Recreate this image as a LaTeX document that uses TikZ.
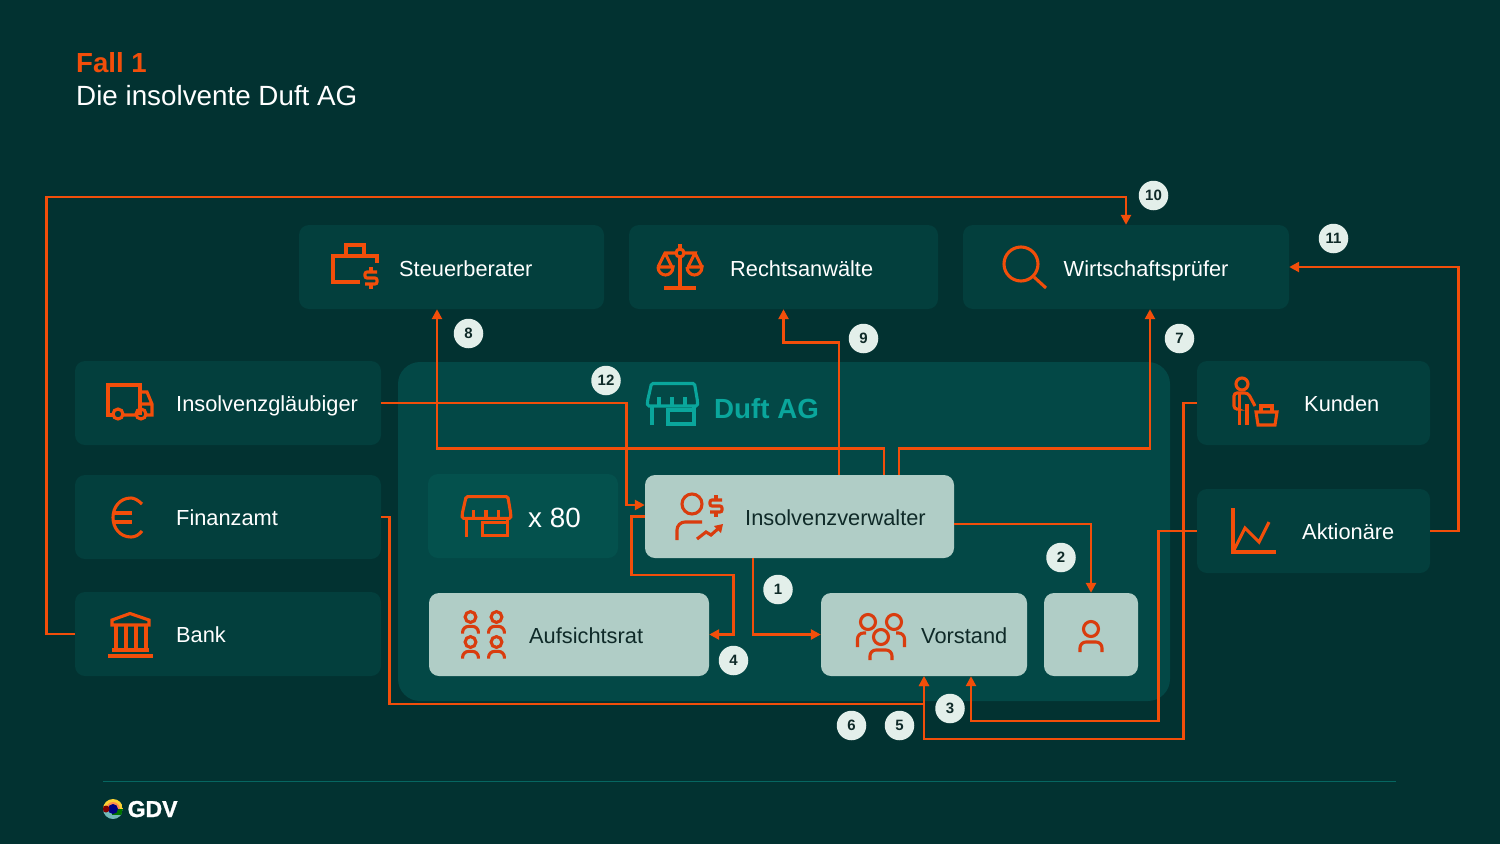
\documentclass[tikz,border=0pt]{standalone}
\usepackage{fontspec}
\setmainfont{Liberation Sans}
\newfontfamily\logofont[FakeBold=1.2]{Liberation Sans Bold}
\usetikzlibrary{arrows.meta}
\definecolor{pageBg}{HTML}{023231}
\definecolor{cardBg}{HTML}{033F3D}
\definecolor{groupBg}{HTML}{034846}
\definecolor{shopBg}{HTML}{04514D}
\definecolor{lightBg}{HTML}{B0CDC6}
\definecolor{flowOrange}{HTML}{F24E0A}
\definecolor{iconRed}{HTML}{D93C0E}
\definecolor{shopTeal}{HTML}{0AA69C}
\definecolor{badgeBg}{HTML}{E3EFEA}
\definecolor{inkDark}{HTML}{0F2A28}
\begin{document}
\begin{tikzpicture}[
    x=1pt, y=-1pt,
    card/.style={
        rectangle, rounded corners=10pt, inner sep=0pt, fill=cardBg
    },
    lightCard/.style={card, fill=lightBg},
    cardText/.style={anchor=base west, inner sep=0pt, text=white, font=\fontsize{21.8}{24}\selectfont},
    lightText/.style={cardText, text=inkDark},
    badge/.style={
        circle, fill=badgeBg, inner sep=0pt, minimum size=29.5pt,
        text=inkDark, font=\fontsize{15}{16}\selectfont\bfseries
    },
    flow/.style={draw=flowOrange, line width=2.9pt, -{Triangle[length=10pt,width=10pt]}},
    iconLine/.style={line width=3.1pt, line join=miter},
    shopIcon/.pic={
        \draw[iconLine, rounded corners=1.5pt] (-21,-20.5) -- (22,-20.5) -- (25,-3) -- (25,2) -- (-25,2) -- (-25,-3) -- cycle;
        \draw[iconLine] (-13.5,2) -- (-13.5,-7) (-0.5,2) -- (-0.5,-7) (12.5,2) -- (12.5,-7);
        \draw[iconLine] (-20.5,2) -- (-20.5,21);
        \draw[iconLine] (-4.5,6) rectangle (21.5,20) (21.5,2) -- (21.5,6);
    },
    personIcon/.pic={
        \draw[iconLine] (0,0) circle[radius=7.5];
        \draw[iconLine, rounded corners=6pt] (-11,23) -- (-11,13) -- (11,13) -- (11,23);
    },
    dollarIcon/.pic={
        \draw[iconLine, rounded corners=2pt] (6,-6) -- (-6,-6) -- (-6,0) -- (6,0) -- (6,6) -- (-6,6);
        \draw[iconLine] (0,-11) -- (0,-6) (0,6) -- (0,11);
    }
]
    \useasboundingbox (0,0) rectangle (1500,844);
    \fill[pageBg] (0,0) rectangle (1500,844);

    % --- Title ---
    \node[cardText, text=flowOrange, font=\fontsize{27.6}{30}\selectfont\bfseries] (fall) at (76,72) {Fall 1};
    \node[cardText, font=\fontsize{27.8}{30}\selectfont] (titel) at (76,105) {Die insolvente Duft AG};

    % --- Duft AG group ---
    \node[card, fill=groupBg, rounded corners=22pt, minimum width=772pt, minimum height=339pt] (duft) at (784,531.5) {};
    \node[cardText, text=shopTeal, font=\fontsize{27.7}{30}\selectfont\bfseries] (duftText) at (714,418) {Duft AG};
    \node[card, fill=shopBg, minimum width=190pt, minimum height=84pt] (filialen) at (523,516) {};
    \node[cardText, font=\fontsize{27.8}{30}\selectfont] (filialenText) at (528,527) {x 80};

    % --- Cards ---
    \node[card, minimum width=305pt, minimum height=84pt] (steuer) at (451.5,267) {};
    \node[card, minimum width=309pt, minimum height=84pt] (recht) at (783.5,267) {};
    \node[card, minimum width=326pt, minimum height=84pt] (wirt) at (1126,267) {};
    \node[card, minimum width=306pt, minimum height=84pt] (glaeub) at (228,403) {};
    \node[card, minimum width=306pt, minimum height=84pt] (finanz) at (228,517) {};
    \node[card, minimum width=306pt, minimum height=84pt] (bank) at (228,634) {};
    \node[card, minimum width=233pt, minimum height=84pt] (kunden) at (1313.5,403) {};
    \node[card, minimum width=233pt, minimum height=84pt] (aktion) at (1313.5,531) {};
    \node[lightCard, minimum width=309pt, minimum height=83pt] (verwalter) at (799.5,516.5) {};
    \node[lightCard, minimum width=280pt, minimum height=83pt] (aufsicht) at (569,634.5) {};
    \node[lightCard, minimum width=206pt, minimum height=83pt] (vorstand) at (924,634.5) {};
    \node[lightCard, minimum width=94pt, minimum height=83pt] (person) at (1091,634.5) {};

    \node[cardText] (steuerText) at (399,276.5) {Steuerberater};
    \node[cardText] (rechtText) at (730,276.5) {Rechtsanwälte};
    \node[cardText] (wirtText) at (1063.5,276.5) {Wirtschaftsprüfer};
    \node[cardText] (glaeubText) at (176,411.5) {Insolvenzgläubiger};
    \node[cardText] (finanzText) at (176,525.5) {Finanzamt};
    \node[cardText] (bankText) at (176,642.5) {Bank};
    \node[cardText] (kundenText) at (1304,411.5) {Kunden};
    \node[cardText] (aktionText) at (1302,539.5) {Aktionäre};
    \node[lightText] (verwalterText) at (745,525.5) {Insolvenzverwalter};
    \node[lightText] (aufsichtText) at (529,643.5) {Aufsichtsrat};
    \node[lightText] (vorstandText) at (921,643.5) {Vorstand};

    % --- Icons on dark cards ---
    \pic[color=shopTeal] (shopDuft) at (672.5,404) {shopIcon};
    \begin{scope}[color=flowOrange]
        \pic[scale=.97] (shopFilialen) at (486.5,516.5) {shopIcon};
        % briefcase
        \draw[iconLine] (377,263) -- (377,256) -- (333,256) -- (333,282) -- (360,282);
        \draw[iconLine] (346,256) -- (346,245) -- (364,245) -- (364,256);
        \pic (dollarSteuer) at (371,278) {dollarIcon};
        % scales
        \draw[iconLine] (680,244) -- (680,249) (680,257) -- (680,288) (664,288) -- (696,288);
        \draw[iconLine] (680,253) circle[radius=4];
        \draw[iconLine] (676,253) -- (665,253) -- (658,267) (665,253) -- (672,267);
        \draw[iconLine] (684,253) -- (695,253) -- (688,267) (695,253) -- (702,267);
        \draw[iconLine] (658,267) -- (673,267) .. controls (673,272) and (669,275) .. (665.5,275) .. controls (662,275) and (658,272) .. (658,267);
        \draw[iconLine] (687,267) -- (702,267) .. controls (702,272) and (698,275) .. (694.5,275) .. controls (691,275) and (687,272) .. (687,267);
        % magnifier
        \draw[iconLine] (1021,264) circle[radius=17];
        \draw[iconLine] (1034,277) -- (1046,288);
        % truck
        \draw[iconLine] (113,415) -- (108,415) -- (108,385) -- (140,385) -- (140,415);
        \draw[iconLine] (123,415) -- (136,415) (140,392) -- (147,392) -- (152,404) -- (152,415) -- (146,415) (140,404) -- (152,404);
        \draw[iconLine] (118,414) circle[radius=5] (141,414) circle[radius=5];
        % euro
        \draw[iconLine] (142,504) .. controls (138,500) and (134,498) .. (131,498) .. controls (120,498) and (113,507) .. (113,517.5) .. controls (113,528) and (120,537) .. (131,537) .. controls (135,537) and (139,535) .. (142,531);
        \draw[iconLine] (113,513) -- (132,513) (113,522) -- (132,522);
        % bank
        \draw[iconLine] (112,620) -- (130,613.5) -- (149,620) -- (149,625) -- (112,625) -- cycle;
        \draw[iconLine] (116,625) -- (116,650) (126,625) -- (126,650) (136,625) -- (136,650) (146,625) -- (146,650);
        \draw[iconLine] (112,650) -- (149,650) (108,656) -- (153,656);
        % customer
        \draw[iconLine] (1242,384) circle[radius=6];
        \draw[iconLine, rounded corners=3pt] (1236,409) -- (1234,409) -- (1234,393) -- (1248,393) -- (1255,406);
        \draw[iconLine] (1239.5,393) -- (1239.5,425) (1247,404) -- (1247,425);
        \draw[iconLine] (1256,412) -- (1277,412) -- (1275,425) -- (1258,425) -- cycle;
        \draw[iconLine] (1261,412) -- (1261,406) -- (1272,406) -- (1272,412);
        % chart
        \draw[iconLine] (1233,508) -- (1233,552) -- (1276,552);
        \draw[iconLine] (1233,552) -- (1245,528) -- (1259,542) -- (1269,522);
    \end{scope}

    % --- Icons on light cards ---
    \begin{scope}[color=iconRed]
        \draw[iconLine] (692,504) circle[radius=10];
        \draw[iconLine, rounded corners=8pt] (677,540) -- (677,522) -- (702,522);
        \pic (dollarVerwalter) at (716,506) {dollarIcon};
        \draw[iconLine] (697,539) -- (706,532) -- (711,535) -- (720,527);
        \fill (723,524) -- (714,526) -- (721,533) -- cycle;
        \pic[scale=.72] (rat1) at (470.5,617) {personIcon};
        \pic[scale=.72] (rat2) at (496.5,617) {personIcon};
        \pic[scale=.72] (rat3) at (470.5,642) {personIcon};
        \pic[scale=.72] (rat4) at (496.5,642) {personIcon};
        \draw[iconLine] (868,622) circle[radius=7.5] (894,622) circle[radius=7.5];
        \draw[iconLine, rounded corners=6pt] (857.5,647) -- (857.5,633) -- (866,633);
        \draw[iconLine, rounded corners=6pt] (904.5,647) -- (904.5,633) -- (896,633);
        \pic (vorstandFront) at (881,637) {personIcon};
        \pic (personSolo) at (1091,629) {personIcon};
    \end{scope}

    % --- Connectors ---
    \draw[flow] ([xshift=-46.5pt]verwalter.south) |- (vorstand.west);
    \draw[flow] ([yshift=-7.5pt]verwalter.east) -| (person.north);
    \draw[flow] (aktion.west) -- ++(-38,0) -- ++(0,190) -| ([xshift=47pt]vorstand.south);
    \draw[flow] (verwalter.west) -- ++(-13,0) -- ++(0,58.5) -- ++(102,0) |- (aufsicht.east);
    \draw[flow] (kunden.west) -- ++(-13,0) -- ++(0,336) -| (vorstand.south);
    \draw[flow] (finanz.east) -- ++(8,0) -- ++(0,187) -| (vorstand.south);
    \draw[flow] ([xshift=99.5pt]verwalter.north) -- ++(0,-26) -| ([xshift=24pt]wirt.south);
    \draw[flow] ([xshift=84.5pt]verwalter.north) -- ++(0,-26) -| ([xshift=-14.5pt]steuer.south);
    \draw[flow] ([xshift=39.5pt]verwalter.north) -- ++(0,-132) -| (recht.south);
    \draw[flow] (bank.west) -- ++(-28,0) -- ++(0,-437) -| (wirt.north);
    \draw[flow] (aktion.east) -- ++(28,0) |- (wirt.east);
    \draw[flow] (glaeub.east) -- ++(245,0) |- ([yshift=11.5pt]verwalter.west);

    % --- Badges ---
    \node[badge] (b1) at (778,589.5) {1};
    \node[badge] (b2) at (1061,557.5) {2};
    \node[badge] (b3) at (950,708.5) {3};
    \node[badge] (b4) at (733.5,660.5) {4};
    \node[badge] (b5) at (899.5,725.5) {5};
    \node[badge] (b6) at (851.5,725.5) {6};
    \node[badge] (b7) at (1179.5,338.5) {7};
    \node[badge] (b8) at (468.5,333.5) {8};
    \node[badge] (b9) at (863.5,338.5) {9};
    \node[badge] (b10) at (1153.5,195.5) {10};
    \node[badge] (b11) at (1333.5,238.5) {11};
    \node[badge] (b12) at (606,380.5) {12};

    % --- Footer ---
    \draw[color=shopTeal!45!pageBg, line width=1.3pt] (103,781.5) -- (1396,781.5);
    \begin{scope}
        \clip (113,809) circle[radius=10];
        \fill[yellow!60!orange!80!white] (103,799) rectangle (123,809);
        \fill[orange!70!red!70!white] (113,809) circle[radius=7];
        \fill[teal!55!white] (103,809) rectangle (123,819);
        \fill[green!45!black] (112,809) rectangle (123,815);
        \fill[blue!50!black] (113,809) circle[radius=5];
        \fill[red!50!black] (106,809) circle[radius=3.5];
    \end{scope}
    \node[cardText, font=\fontsize{23}{26}\logofont] (gdv) at (127.5,817) {GDV};
\end{tikzpicture}
\end{document}
